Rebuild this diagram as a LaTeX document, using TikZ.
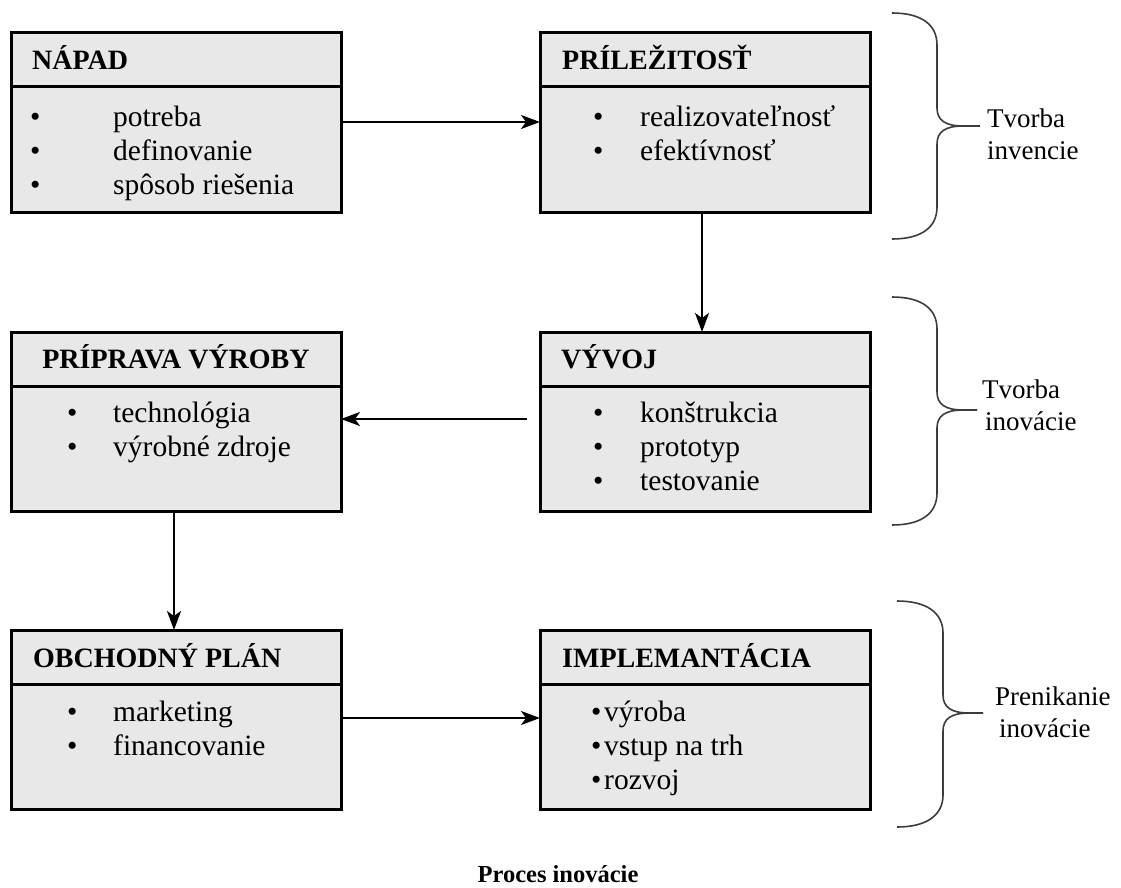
\documentclass[tikz,border=0pt]{standalone}
\usepackage{fontspec}
\setmainfont{Liberation Serif}
\usetikzlibrary{arrows.meta}
\definecolor{boxgray}{RGB}{232,232,232}
\definecolor{bracegray}{RGB}{60,60,60}
\tikzset{
  part/.style={draw=black, line width=3pt, fill=boxgray, minimum width=330pt, inner sep=0pt, outer sep=0pt, anchor=north west},
  hdr/.style={part, minimum height=54pt},
  bdy/.style={part, minimum height=125pt},
  ttl/.style={anchor=base west, inner sep=0pt, font=\bfseries\fontsize{28}{32}\selectfont},
  lst/.style={anchor=base west, inner sep=0pt, font=\fontsize{29.5}{34}\selectfont},
  lbl/.style={anchor=base west, inner sep=0pt, font=\fontsize{27}{32}\selectfont},
  arr/.style={draw=black, line width=2pt, -{Stealth[length=19pt,width=14pt,inset=5pt]}},
  brc/.style={draw=bracegray, line width=1.6pt},
}
% #1 x of ends, #2 x of spine, #3 x of tip, #4 y top, #5 y tip, #6 y bottom
\newcommand\mybrace[6]{%
  \draw[brc] (#1,-#4) .. controls ({#1+30},-#4) and (#2,{-#4-12}) .. (#2,{-#4-32})
    -- (#2,{-#5+18}) .. controls (#2,{-#5+6}) and ({#2+8},-#5) .. ({#2+26},-#5) -- (#3,-#5);
  \draw[brc] ({#2+26},-#5) .. controls ({#2+8},-#5) and (#2,{-#5-6}) .. (#2,{-#5-18})
    -- (#2,{-#6+32}) .. controls (#2,{-#6+12}) and ({#1+30},-#6) .. (#1,-#6);
}
\begin{document}
\begin{tikzpicture}[x=1pt,y=1pt]
\useasboundingbox (0,0) rectangle (1121,-888);

% ---- row 1
\node[hdr] (napadH) at (11,-33) {};
\node[bdy] (napad) at (11,-87) {};
\node[ttl] (napadT) at (32,-70) {NÁPAD};
\node[lst] (napadL) at (30,-127) {\begin{tabular}[t]{@{}p{83pt}@{}l@{}}•&potreba\\•&definovanie\\•&spôsob riešenia\end{tabular}};

\node[hdr] (prilezH) at (540,-33) {};
\node[bdy] (prilez) at (540,-87) {};
\node[ttl] (prilezT) at (562,-70) {PRÍLEŽITOSŤ};
\node[lst] (prilezL) at (593,-127) {\begin{tabular}[t]{@{}p{47pt}@{}l@{}}•&realizovateľnosť\\•&efektívnosť\end{tabular}};

% ---- row 2
\node[hdr] (pripravaH) at (11,-332) {};
\node[bdy] (priprava) at (11,-386) {};
\node[ttl, anchor=base] (pripravaT) at (176,-368) {PRÍPRAVA VÝROBY};
\node[lst] (pripravaL) at (67,-422) {\begin{tabular}[t]{@{}p{46pt}@{}l@{}}•&technológia\\•&výrobné zdroje\end{tabular}};

\node[hdr] (vyvojH) at (540,-332) {};
\node[bdy] (vyvoj) at (540,-386) {};
\node[ttl] (vyvojT) at (561,-368) {VÝVOJ};
\node[lst] (vyvojL) at (593,-422) {\begin{tabular}[t]{@{}p{47pt}@{}l@{}}•&konštrukcia\\•&prototyp\\•&testovanie\end{tabular}};

% ---- row 3
\node[hdr] (obchodH) at (11,-630) {};
\node[bdy] (obchod) at (11,-684) {};
\node[ttl] (obchodT) at (33,-667) {OBCHODNÝ PLÁN};
\node[lst] (obchodL) at (67,-721) {\begin{tabular}[t]{@{}p{46pt}@{}l@{}}•&marketing\\•&financovanie\end{tabular}};

\node[hdr] (implH) at (540,-630) {};
\node[bdy] (impl) at (540,-684) {};
\node[ttl] (implT) at (562,-667) {IMPLEMANTÁCIA};
\node[lst] (implL) at (591,-721) {\begin{tabular}[t]{@{}p{13pt}@{}l@{}}•&výroba\\•&vstup na trh\\•&rozvoj\end{tabular}};

% ---- arrows
\draw[arr] ([yshift=-35pt]napad.north east) -- ([yshift=-35pt]prilez.north west);
\draw[arr] ([xshift=-3pt]prilez.south) -- ([xshift=-3pt]vyvojH.north);
\draw[arr, shorten <=13pt] ([yshift=-33pt]vyvoj.north west) -- ([yshift=-33pt]priprava.north east);
\draw[arr] ([xshift=-2pt]priprava.south) -- ([xshift=-2pt]obchodH.north);
\draw[arr] ([yshift=-34pt]obchod.north east) -- ([yshift=-34pt]impl.north west);

% ---- braces
\mybrace{892}{937}{980}{13}{126}{239}
\mybrace{892}{937}{977}{297}{410}{525}
\mybrace{897}{943}{983}{601}{713}{827}

\node[lbl] (lab1) at (987,-128) {\begin{tabular}[t]{@{}l@{}}Tvorba\\invencie\end{tabular}};
\node[lbl] (lab2) at (982,-398) {\begin{tabular}[t]{@{}l@{}}Tvorba\\\hspace{3pt}inovácie\end{tabular}};
\node[lbl] (lab3) at (995,-705) {\begin{tabular}[t]{@{}l@{}}Prenikanie\\\hspace{4pt}inovácie\end{tabular}};

% ---- caption
\node[anchor=base, inner sep=0pt, font=\bfseries\fontsize{24.5}{28}\selectfont] (caption) at (558,-882) {Proces inovácie};
\end{tikzpicture}
\end{document}
